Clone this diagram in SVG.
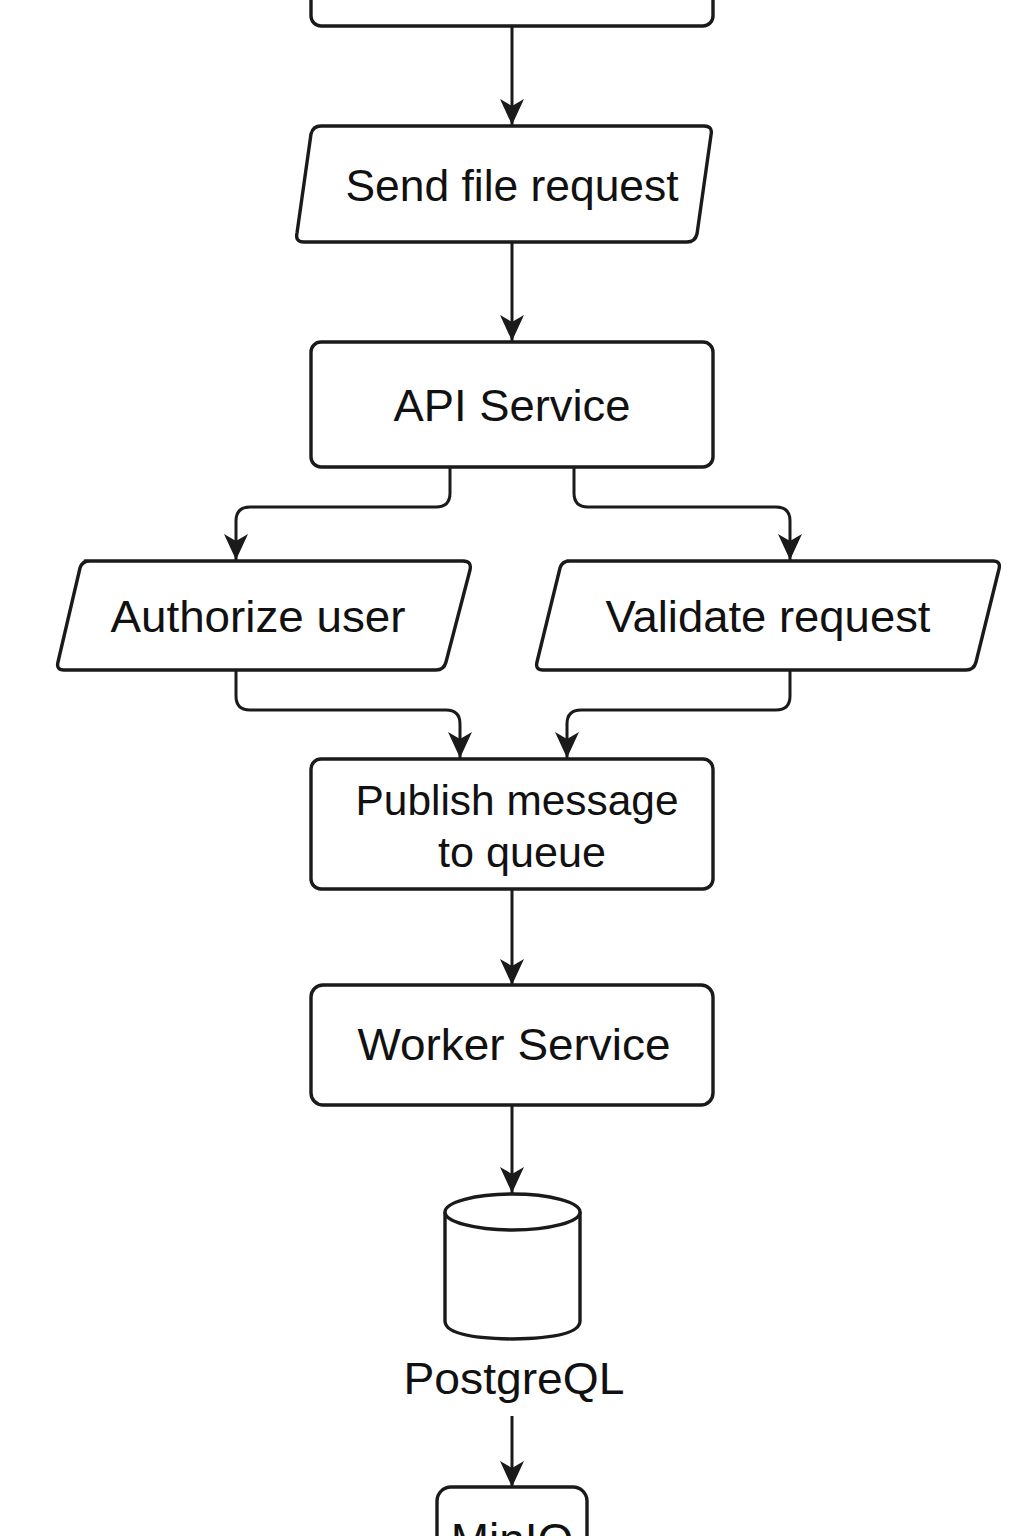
<svg xmlns="http://www.w3.org/2000/svg" width="1024" height="1536" viewBox="0 0 1024 1536">
<defs>
<style>
.n{fill:#fff;stroke:#1a1a1a;stroke-width:3.4;stroke-linejoin:round}
.c{fill:none;stroke:#1a1a1a;stroke-width:3}
.t{font-family:"Liberation Sans",Arial,sans-serif;fill:#111;text-anchor:middle}
</style>
<marker id="ah2" viewBox="0 0 26 26" refX="26" refY="13" markerWidth="26" markerHeight="26" orient="auto" markerUnits="userSpaceOnUse">
<path d="M0,1 L26,13 L0,25 L7,13 Z" fill="#1a1a1a"/>
</marker>
</defs>
<rect width="1024" height="1536" fill="#fff"/>
<g id="connectors">
<path class="c" d="M512,27 V125" marker-end="url(#ah2)"/>
<path class="c" d="M512,243 V341" marker-end="url(#ah2)"/>
<path class="c" d="M450,468 V493 Q450,507 436,507 H250 Q236,507 236,521 V560" marker-end="url(#ah2)"/>
<path class="c" d="M574,468 V493 Q574,507 588,507 H776 Q790,507 790,521 V560" marker-end="url(#ah2)"/>
<path class="c" d="M236,671 V696 Q236,710 250,710 H446 Q460,710 460,724 V758" marker-end="url(#ah2)"/>
<path class="c" d="M790,671 V696 Q790,710 776,710 H581 Q567,710 567,724 V758" marker-end="url(#ah2)"/>
<path class="c" d="M512,890 V985" marker-end="url(#ah2)"/>
<path class="c" d="M512,1106 V1193" marker-end="url(#ah2)"/>
<path class="c" d="M512,1416 V1487" stroke-width="2.4" marker-end="url(#ah2)"/>
</g>
<g id="node-top">
<rect class="n" x="311" y="-40" width="402" height="66" rx="10"/>
</g>
<g id="node-send">
<path class="n" d="M321,126 H704 Q713,126 711,135 L697,234 Q695,242 687,242 H304 Q295,242 297,233 L311,134 Q313,126 321,126 Z"/>
<text class="t" x="512" y="201" font-size="44" textLength="333" lengthAdjust="spacingAndGlyphs">Send file request</text>
</g>
<g id="node-api">
<rect class="n" x="311" y="342" width="402" height="125" rx="10"/>
<text class="t" x="512" y="421" font-size="45" textLength="237" lengthAdjust="spacingAndGlyphs">API Service</text>
</g>
<g id="node-authorize">
<path class="n" d="M85,561 H463 Q472,561 470,570 L446,662 Q444,670 436,670 H64 Q56,670 58,662 L80,568 Q82,561 90,561 Z"/>
<text class="t" x="258" y="632" font-size="44" textLength="295" lengthAdjust="spacingAndGlyphs">Authorize user</text>
</g>
<g id="node-validate">
<path class="n" d="M567,561 H993 Q1001,561 999,569 L976,662 Q974,670 966,670 H543 Q535,670 537,662 L560,568 Q562,561 570,561 Z"/>
<text class="t" x="768" y="632" font-size="44" textLength="325" lengthAdjust="spacingAndGlyphs">Validate request</text>
</g>
<g id="node-publish">
<rect class="n" x="311" y="759" width="402" height="130" rx="10"/>
<text class="t" x="517" y="815" font-size="42" textLength="323" lengthAdjust="spacingAndGlyphs">Publish message</text>
<text class="t" x="522" y="867" font-size="42" textLength="168" lengthAdjust="spacingAndGlyphs">to queue</text>
</g>
<g id="node-worker">
<rect class="n" x="311" y="985" width="402" height="120" rx="12"/>
<text class="t" x="514" y="1060" font-size="45" textLength="313" lengthAdjust="spacingAndGlyphs">Worker Service</text>
</g>
<g id="node-postgres">
<path class="n" d="M445,1212 V1321 Q445,1338 512,1339 Q580,1338 580,1321 V1212"/>
<ellipse class="n" cx="512.5" cy="1212" rx="67.5" ry="18"/>
<text class="t" x="514" y="1394" font-size="45" textLength="221" lengthAdjust="spacingAndGlyphs">PostgreQL</text>
</g>
<g id="node-minio">
<rect class="n" x="437" y="1487" width="150" height="80" rx="14"/>
<text class="t" x="512" y="1556" font-size="46">MinIO</text>
</g>
</svg>
